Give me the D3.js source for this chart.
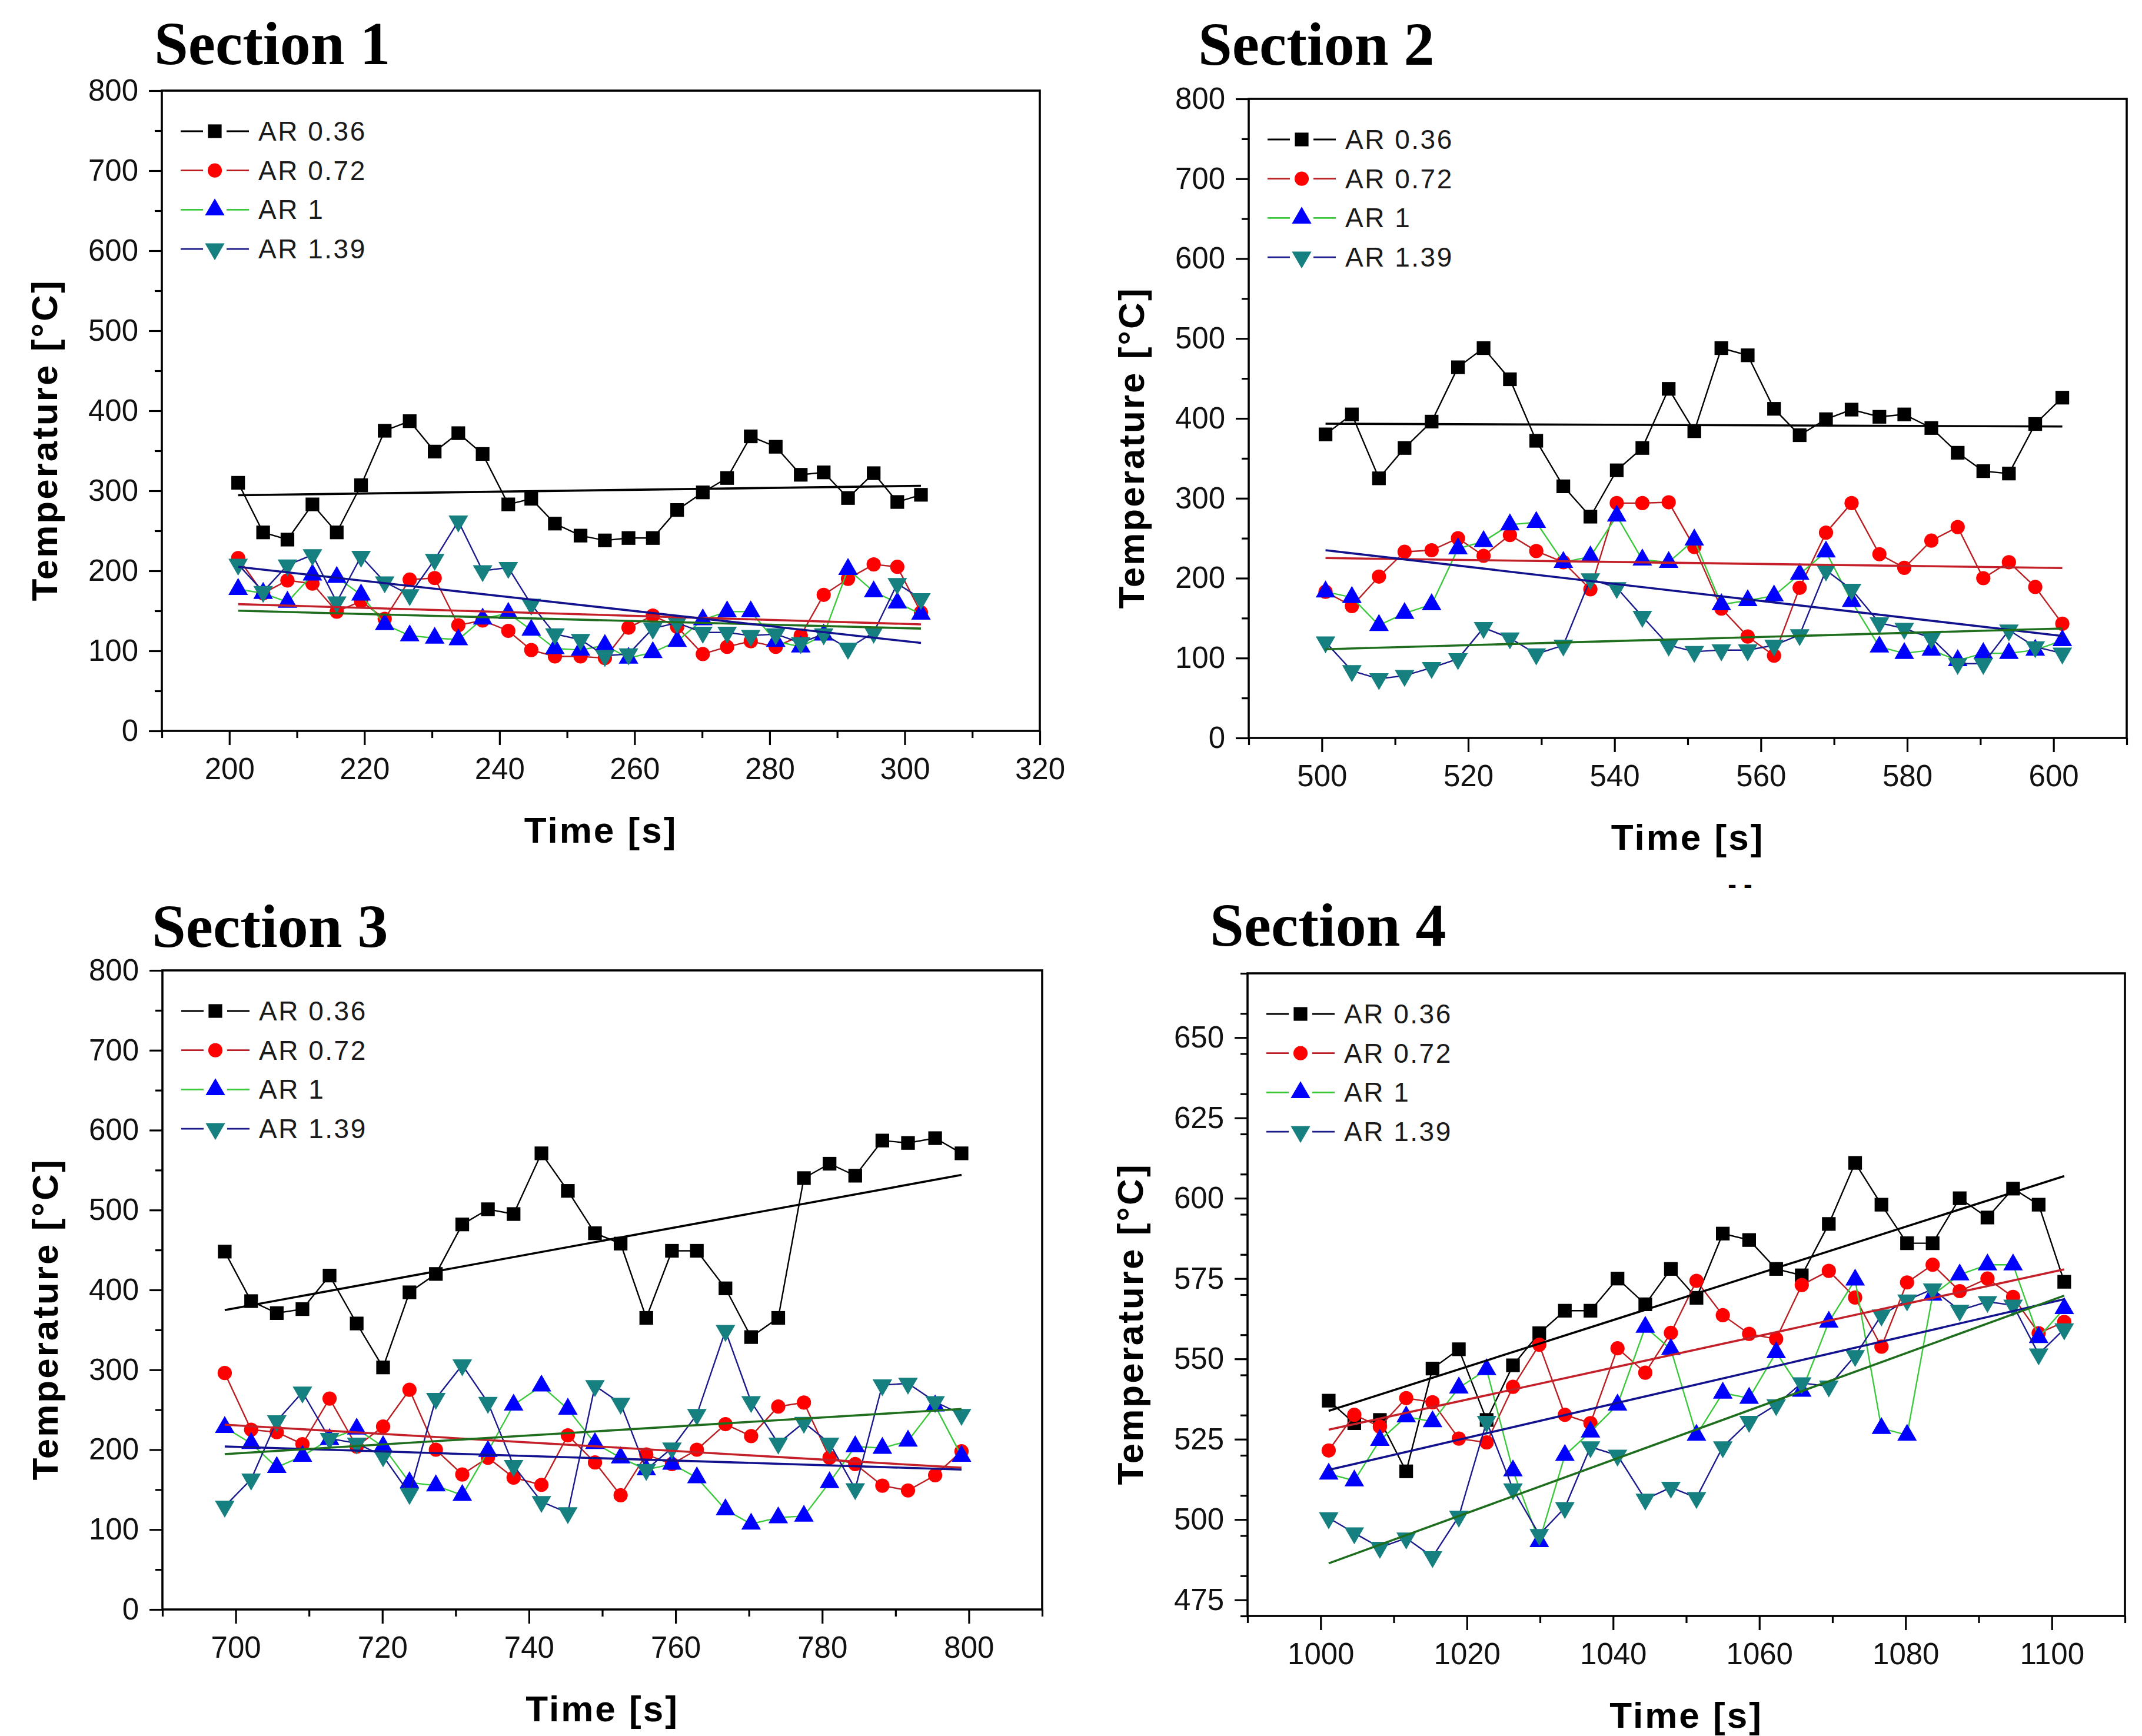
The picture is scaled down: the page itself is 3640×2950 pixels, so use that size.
<!DOCTYPE html>
<html>
<head>
<meta charset="utf-8">
<script src="https://cdn.jsdelivr.net/npm/d3@7"></script>
<style>
  body { margin: 0; background: #fff; }
  svg text { font-family: "Liberation Sans", Arial, sans-serif; }
</style>
</head>
<body>
<svg id="chart" width="3640" height="2950"></svg>
<script>
// ---- data ----
var seriesNames = ["AR 0.36", "AR 0.72", "AR 1", "AR 1.39"];

var timeS1 = [201.3, 205, 208.6, 212.3, 215.9, 219.5, 223, 226.7, 230.4, 233.9, 237.5, 241.3, 244.7, 248.2, 252, 255.6, 259.1, 262.7, 266.3, 270.1, 273.7, 277.2, 280.9, 284.6, 288, 291.6, 295.4, 298.9, 302.4];
var s1Ar036 = [310, 248, 239, 283, 248, 307, 375, 387, 349, 372, 346, 283, 290, 259, 244, 238, 241, 241, 276, 298, 316, 368, 355, 320, 323, 291, 322, 286, 295];
var s1Ar072 = [216, 172, 188, 184, 149, 162, 140, 189, 191, 132, 138, 125, 101, 93, 93, 91, 129, 144, 130, 96, 105, 112, 105, 119, 170, 190, 208, 205, 148];
var s1Ar1   = [177, 172, 161, 195, 192, 170, 133, 119, 116, 114, 140, 147, 126, 103, 101, 107, 91, 98, 112, 139, 149, 149, 112, 105, 120, 202, 174, 160, 146];
var s1Ar139 = [208, 174, 207, 220, 161, 218, 186, 170, 214, 262, 200, 204, 158, 121, 114, 94, 96, 128, 135, 123, 123, 119, 121, 110, 121, 103, 123, 184, 165];

var timeS2 = [500.5, 504.1, 507.8, 511.3, 515, 518.6, 522.1, 525.7, 529.3, 533, 536.7, 540.3, 543.8, 547.4, 550.9, 554.6, 558.2, 561.8, 565.3, 568.9, 572.4, 576.2, 579.6, 583.3, 586.9, 590.4, 593.9, 597.5, 601.2];
var s2Ar036 = [380, 405, 325, 363, 396, 464, 488, 449, 372, 315, 277, 335, 363, 437, 384, 488, 479, 412, 379, 399, 411, 402, 405, 388, 357, 334, 331, 393, 426];
var s2Ar072 = [183, 165, 202, 233, 235, 250, 228, 254, 234, 220, 186, 294, 294, 295, 239, 162, 127, 103, 188, 257, 294, 230, 213, 247, 264, 200, 220, 189, 143];
var s2Ar1   = [183, 176, 141, 156, 167, 237, 246, 267, 270, 220, 227, 278, 223, 220, 248, 167, 172, 178, 205, 233, 171, 114, 106, 110, 97, 106, 106, 110, 122];
var s2Ar139 = [120, 84, 74, 78, 88, 99, 138, 125, 105, 116, 199, 188, 152, 116, 108, 110, 110, 116, 129, 210, 186, 144, 137, 125, 93, 93, 135, 114, 106];

var timeS3 = [698.5, 702.1, 705.6, 709.1, 712.8, 716.5, 720.1, 723.7, 727.3, 730.9, 734.4, 737.9, 741.7, 745.3, 749, 752.5, 756, 759.5, 762.9, 766.8, 770.3, 774, 777.5, 781, 784.5, 788.2, 791.7, 795.4, 799];
var s3Ar036 = [448, 386, 371, 376, 418, 358, 303, 397, 420, 482, 501, 495, 571, 524, 471, 458, 365, 449, 449, 402, 341, 365, 540, 558, 543, 587, 584, 590, 571];
var s3Ar072 = [296, 225, 222, 207, 264, 204, 229, 275, 200, 169, 190, 165, 156, 218, 184, 143, 194, 182, 200, 232, 217, 254, 259, 190, 182, 155, 149, 168, 198];
var s3Ar1   = [228, 208, 178, 192, 213, 226, 204, 159, 155, 143, 198, 256, 280, 251, 208, 190, 175, 182, 165, 125, 107, 115, 117, 159, 204, 202, 211, 255, 192];
var s3Ar139 = [129, 163, 236, 272, 214, 208, 192, 145, 264, 306, 259, 180, 135, 121, 280, 258, 175, 202, 244, 349, 260, 208, 234, 208, 151, 281, 283, 260, 244];

var timeS4 = [1001.1, 1004.6, 1008.1, 1011.7, 1015.3, 1018.9, 1022.7, 1026.3, 1029.9, 1033.4, 1036.9, 1040.6, 1044.4, 1047.9, 1051.4, 1055, 1058.6, 1062.3, 1065.8, 1069.5, 1073.1, 1076.7, 1080.2, 1083.7, 1087.4, 1091.2, 1094.7, 1098.2, 1101.7];
var s4Ar036 = [537, 530, 531, 515, 547, 553, 531, 548, 558, 565, 565, 575, 567, 578, 569, 589, 587, 578, 576, 592, 611, 598, 586, 586, 600, 594, 603, 598, 574];
var s4Ar072 = [521.5, 532.6, 528.9, 537.8, 536.5, 525.2, 524, 541.3, 554.4, 532.6, 530, 553.3, 545.7, 558.1, 574.3, 563.6, 557.8, 556.2, 573, 577.4, 569.1, 553.8, 573.8, 579.3, 571.1, 575, 569.3, 558, 561.5];
var s4Ar1   = [514.2, 512.1, 524.7, 532, 530.5, 541, 546.7, 515.2, 493.2, 520, 527.3, 535.7, 559.9, 553, 526.3, 539.4, 537.8, 552, 540, 561.5, 574.6, 528.4, 526.3, 569.9, 576.2, 579.3, 579.3, 556.7, 565.7];
var s4Ar139 = [500.5, 495.8, 491.3, 494.2, 488.4, 501, 530.5, 509.5, 495.3, 503.7, 522.6, 520, 506.3, 510, 506.8, 522.6, 530.5, 535.7, 542.5, 541.5, 551, 563.6, 568.3, 571.7, 565.1, 567.8, 566.7, 551.5, 559.3];

// tick values
var xTicksS1 = [200, 220, 240, 260, 280, 300, 320];
var xTicksS2 = [500, 520, 540, 560, 580, 600];
var xTicksS3 = [700, 720, 740, 760, 780, 800];
var xTicksS4 = [1000, 1020, 1040, 1060, 1080, 1100];
var yTicksTemp = [0, 100, 200, 300, 400, 500, 600, 700, 800];
var yTicksS4 = [475, 500, 525, 550, 575, 600, 625, 650];

// ---- styles ----
var lineColors = ["#000000", "#b81e22", "#3cc83c", "#1a1a8c"];
var markerColors = ["#000000", "#ff0000", "#0000ff", "#167f7f"];
var fitPalette = { black: "#000000", red: "#c4202a", green: "#1e6e1e", navy: "#12128e" };

var panels = [
  { title: "Section 1", titleX: 262, titleY: 109, time: timeS1,
    series: [s1Ar036, s1Ar072, s1Ar1, s1Ar139],
    fit: ["black", "red", "green", "navy"],
    xDomain: [190, 320], xTicks: xTicksS1, xStep: 10,
    yDomain: [0, 800], yTicks: yTicksTemp, yStep: 50,
    l: 275, r: 1767, t: 154, b: 1242 },
  { title: "Section 2", titleX: 2036, titleY: 110, time: timeS2,
    series: [s2Ar036, s2Ar072, s2Ar1, s2Ar139],
    fit: ["black", "red", "navy", "green"],
    xDomain: [490, 610], xTicks: xTicksS2, xStep: 10,
    yDomain: [0, 800], yTicks: yTicksTemp, yStep: 50,
    l: 2122, r: 3614, t: 168, b: 1254 },
  { title: "Section 3", titleX: 258, titleY: 1609, time: timeS3,
    series: [s3Ar036, s3Ar072, s3Ar1, s3Ar139],
    fit: ["black", "red", "navy", "green"],
    xDomain: [690, 810], xTicks: xTicksS3, xStep: 10,
    yDomain: [0, 800], yTicks: yTicksTemp, yStep: 50,
    l: 276, r: 1771, t: 1649, b: 2735 },
  { title: "Section 4", titleX: 2056, titleY: 1607, time: timeS4,
    series: [s4Ar036, s4Ar072, s4Ar1, s4Ar139],
    fit: ["black", "red", "navy", "green"],
    xDomain: [990, 1110], xTicks: xTicksS4, xStep: 10,
    yDomain: [470, 670], yTicks: yTicksS4, yStep: 12.5,
    l: 2120, r: 3611, t: 1654, b: 2746 }
];

var svg = d3.select("#chart");

var symbolTypes = [d3.symbolSquare, d3.symbolCircle, d3.symbolTriangle, d3.symbolTriangle];
var symbolSizes = [540, 460, 480, 480];

function marker(sel, i) {
  sel.attr("d", d3.symbol().type(symbolTypes[i]).size(symbolSizes[i])())
    .attr("fill", markerColors[i]);
}

function linfit(xs, ys) {
  var mx = d3.mean(xs), my = d3.mean(ys);
  var sxy = d3.sum(xs, function (v, k) { return (v - mx) * (ys[k] - my); });
  var sxx = d3.sum(xs, function (v) { return (v - mx) * (v - mx); });
  var m = sxy / sxx;
  return function (v) { return my + m * (v - mx); };
}

function minorTicks(domain, step, majors) {
  var out = [];
  for (var v = domain[0]; v <= domain[1] + 1e-6; v += step) {
    var isMajor = majors.some(function (m) { return Math.abs(m - v) < 1e-6; });
    if (!isMajor) out.push(v);
  }
  return out;
}

function drawPanel(p) {
  var g = svg.append("g");
  var x = d3.scaleLinear().domain(p.xDomain).range([p.l, p.r]);
  var y = d3.scaleLinear().domain(p.yDomain).range([p.b, p.t]);

  // title
  g.append("text").attr("x", p.titleX).attr("y", p.titleY)
    .style("font-family", "'Liberation Serif', 'Times New Roman', serif")
    .style("font-weight", "bold").style("font-size", "104px")
    .text(p.title);

  // axes
  g.append("g").attr("transform", "translate(0," + p.b + ")")
    .call(d3.axisBottom(x).tickValues(p.xTicks).tickSize(24).tickSizeOuter(0).tickPadding(22).tickFormat(d3.format("d")));
  g.append("g").attr("transform", "translate(0," + p.b + ")")
    .call(d3.axisBottom(x).tickValues(minorTicks(p.xDomain, p.xStep, p.xTicks)).tickSize(12).tickSizeOuter(0).tickFormat(""));
  g.append("g").attr("transform", "translate(" + p.l + ",0)")
    .call(d3.axisLeft(y).tickValues(p.yTicks).tickSize(22).tickSizeOuter(0).tickPadding(18).tickFormat(d3.format("d")));
  g.append("g").attr("transform", "translate(" + p.l + ",0)")
    .call(d3.axisLeft(y).tickValues(minorTicks(p.yDomain, p.yStep, p.yTicks)).tickSize(12).tickSizeOuter(0).tickFormat(""));
  g.selectAll(".domain").remove();
  g.selectAll(".tick line").attr("stroke", "#000").attr("stroke-width", 3.2);
  g.selectAll(".tick text").style("font-size", "51px").attr("fill", "#111");

  // axis titles
  g.append("text")
    .attr("transform", "translate(" + (p.l - 178) + "," + ((p.t + p.b) / 2 + 50) + ") rotate(-90)")
    .attr("text-anchor", "middle").style("font-weight", "bold").style("font-size", "62px")
    .style("letter-spacing", "3px").text("Temperature [°C]");
  g.append("text")
    .attr("x", (p.l + p.r) / 2).attr("y", p.b + 190)
    .attr("text-anchor", "middle").style("font-weight", "bold").style("font-size", "62px")
    .style("letter-spacing", "3px").text("Time [s]");

  // plot area clip
  var clipId = "clip" + p.title.replace(/\s/g, "");
  g.append("clipPath").attr("id", clipId).append("rect")
    .attr("x", p.l).attr("y", p.t).attr("width", p.r - p.l).attr("height", p.b - p.t);
  var plot = g.append("g").attr("clip-path", "url(#" + clipId + ")");

  var line = d3.line().x(function (d) { return x(d[0]); }).y(function (d) { return y(d[1]); });

  p.series.forEach(function (vals, i) {
    var pts = p.time.map(function (t, k) { return [t, vals[k]]; });
    plot.append("path").datum(pts).attr("d", line)
      .attr("fill", "none").attr("stroke", lineColors[i]).attr("stroke-width", 2.4);
    plot.selectAll(null).data(pts).enter().append("path")
      .attr("transform", function (d) {
        return "translate(" + x(d[0]) + "," + y(d[1]) + ")" + (i === 3 ? " rotate(180)" : "");
      })
      .call(marker, i);
  });

  // linear fits
  p.series.forEach(function (vals, i) {
    var f = linfit(p.time, vals);
    var t0 = p.time[0], t1 = p.time[p.time.length - 1];
    plot.append("path").datum([[t0, f(t0)], [t1, f(t1)]]).attr("d", line)
      .attr("fill", "none").attr("stroke", fitPalette[p.fit[i]]).attr("stroke-width", 3.6);
  });

  // frame
  g.append("rect").attr("x", p.l).attr("y", p.t).attr("width", p.r - p.l).attr("height", p.b - p.t)
    .attr("fill", "none").attr("stroke", "#000").attr("stroke-width", 3.6);

  // legend
  var lg = g.append("g").attr("transform", "translate(" + (p.l + 90) + "," + (p.t + 69) + ")");
  seriesNames.forEach(function (name, i) {
    var row = lg.append("g").attr("transform", "translate(0," + (i * 66.7) + ")");
    row.append("line").attr("x1", -58).attr("x2", -20).attr("stroke", lineColors[i]).attr("stroke-width", 2.8);
    row.append("line").attr("x1", 20).attr("x2", 58).attr("stroke", lineColors[i]).attr("stroke-width", 2.8);
    row.append("path").attr("transform", i === 3 ? "rotate(180)" : null).call(marker, i);
    row.append("text").attr("x", 74).attr("y", 16).style("font-size", "46px")
      .style("letter-spacing", "2.5px").attr("fill", "#1a1a1a").text(name);
  });
}

panels.forEach(drawPanel);

// stray dash marks under the Section 2 axis title
svg.append("text").attr("x", 2957).attr("y", 1518).attr("text-anchor", "middle")
  .style("font-weight", "bold").style("font-size", "44px").text("- -");
</script>
</body>
</html>
